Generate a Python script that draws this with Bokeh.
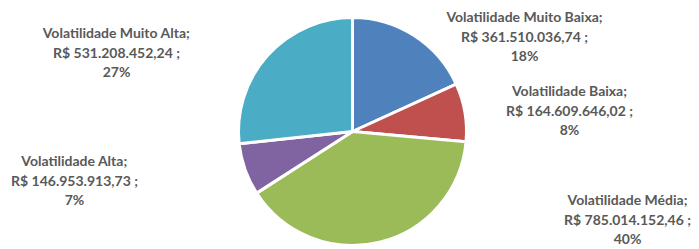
from bokeh.plotting import figure
from bokeh.models import Range1d, ColumnDataSource
from bokeh.core.properties import value
from bokeh.embed import file_html
from bokeh.resources import INLINE
import math

# ---- data ----
categories = ["Volatilidade Muito Baixa", "Volatilidade Baixa", "Volatilidade Média",
              "Volatilidade Alta", "Volatilidade Muito Alta"]
amounts = [361510036.74, 164609646.02, 785014152.46, 146953913.73, 531208452.24]
pct_labels = ["18%", "8%", "40%", "7%", "27%"]
colors = ["#4F81BD", "#C0504D", "#9BBB59", "#8064A2", "#4BACC6"]

def brl(v):
    s = f"{v:,.2f}"
    return "R$ " + s.replace(",", "X").replace(".", ",").replace("X", ".")

# ---- layout (image pixel coords, y measured from top) ----
W, H = 699, 249
cx_img, cy_img, R = 352, 131, 114
label_pos = [(524, 16), (569, 90), (627, 199), (74, 160), (116, 32)]
line_gap = 19.5

def Y(img_y):
    return H - img_y

p = figure(width=W, height=H, output_backend="svg", toolbar_location=None,
           x_range=Range1d(0, W), y_range=Range1d(0, H), min_border=0)
p.axis.visible = False
p.grid.visible = False
p.outline_line_color = None

total = sum(amounts)
starts, ends = [], []
cum = 0.0
for a in amounts:
    starts.append(math.pi / 2 - cum / total * 2 * math.pi)
    cum += a
    ends.append(math.pi / 2 - cum / total * 2 * math.pi)

src = ColumnDataSource(dict(x=[cx_img] * len(amounts), y=[Y(cy_img)] * len(amounts),
                            start=starts, end=ends, color=colors))
p.wedge(x="x", y="y", radius=R, start_angle="start", end_angle="end",
        direction="clock", fill_color="color", line_color="white", line_width=3,
        source=src)

tx, ty, tt = [], [], []
for cat, amt, pct, (lx, ly) in zip(categories, amounts, pct_labels, label_pos):
    lines = [cat + ";", brl(amt) + " ;", pct]
    for i, ln in enumerate(lines):
        tx.append(lx)
        ty.append(Y(ly + i * line_gap))
        tt.append(ln)

p.text(x=tx, y=ty, text=tt, text_align="center", text_baseline="middle",
       text_font=value("Lato"), text_font_style="bold", text_font_size="14px",
       text_color="#595959")

open("out.html", "w").write(file_html(p, INLINE))
